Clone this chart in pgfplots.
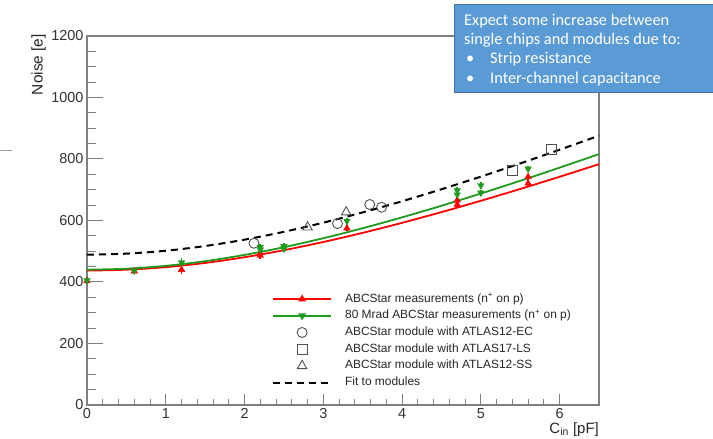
\documentclass[border=0pt]{standalone}
\usepackage{pgfplots}
\pgfplotsset{compat=1.18}
\usepackage{fontspec}
\setmainfont{Liberation Sans}
\newfontfamily\calibri{Carlito}
\definecolor{axgray}{HTML}{808080}
\definecolor{tickcol}{HTML}{333333}
\definecolor{rootred}{HTML}{FF0000}
\definecolor{rootgreen}{HTML}{1E9A1E}
\definecolor{boxblue}{HTML}{5B9BD5}
\definecolor{boxedge}{HTML}{41719C}
\definecolor{mkgray}{HTML}{505050}
\begin{document}
\begin{tikzpicture}
\path[use as bounding box] (-87bp,-34bp) rectangle (626bp,405bp);
% y axis with its own tick lengths
\begin{axis}[
  at={(0,0)}, anchor=south west,
  scale only axis, width=512bp, height=369bp,
  xmin=0, xmax=6.5, ymin=0, ymax=1200,
  hide x axis, axis y line*=left,
  ytick={0,200,...,1200}, minor y tick num=3, ytick pos=left,
  major tick length=15.7bp, minor tick length=9bp,
  axis line style={axgray, line width=1.2bp, -},
  tick style={axgray, line width=1bp},
  minor tick style={axgray, line width=1bp},
  tick label style={font=\fontsize{14.5}{16}\selectfont, text=tickcol},
  /pgf/number format/assume math mode=true,
  /pgf/number format/1000 sep={},
  scaled ticks=false,
  clip=false,
]
\node[rotate=90, anchor=base east, inner sep=0pt, font=\fontsize{15.5}{17}\selectfont, text=black!85]
  at ([xshift=-44.3bp, yshift=2bp]rel axis cs:0,1) {Noise [e]};
\end{axis}
% main axis: frame, x ticks, data, legend
\begin{axis}[
  at={(0,0)}, anchor=south west,
  scale only axis, width=512bp, height=369bp,
  xmin=0, xmax=6.5, ymin=0, ymax=1200,
  xtick={0,1,...,6}, minor x tick num=4, xtick pos=left,
  ytick=\empty,
  major tick length=11bp, minor tick length=6bp,
  axis line style={axgray, line width=1.2bp},
  tick style={axgray, line width=1bp},
  minor tick style={axgray, line width=1bp},
  tick label style={font=\fontsize{14.5}{16}\selectfont, text=tickcol},
  /pgf/number format/assume math mode=true,
  scaled ticks=false,
  clip=false,
  legend cell align=left,
  legend style={draw=none, fill=none, inner sep=0pt, outer sep=0pt,
    at={(axis cs:2.35,364)}, anchor=north west,
    font=\fontsize{12}{14}\selectfont, text=black!85,
    row sep=4.7bp,
    nodes={inner sep=0pt, outer sep=0pt, text height=9bp, text depth=3bp},
    /tikz/every odd column/.append style={column sep=13bp}},
  legend image code/.code={\draw[mark repeat=2,mark phase=2,#1] plot coordinates {(0bp,0bp) (29bp,0bp) (58bp,0bp)};},
]
\addlegendimage{rootred, line width=1.8bp, mark=triangle*, mark size=2.8bp, mark options={solid}}
\addlegendimage{rootgreen, line width=1.8bp, mark=triangle*, mark size=2.8bp, mark options={solid, rotate=180}}
\addlegendimage{only marks, mkgray, mark=o, mark size=5bp, mark options={line width=0.9bp}}
\addlegendimage{only marks, mkgray, mark=square, mark size=5bp, mark options={line width=0.9bp}}
\addlegendimage{only marks, mkgray, mark=triangle, mark size=5.5bp, mark options={line width=0.9bp}}
\addlegendimage{black, line width=2bp, dash pattern=on 7bp off 5bp}
\legend{ABCStar measurements (n\textsuperscript{+} on p),
  80 Mrad ABCStar measurements (n\textsuperscript{+} on p),
  ABCStar module with ATLAS12-EC,
  ABCStar module with ATLAS17-LS,
  ABCStar module with ATLAS12-SS,
  Fit to modules}

% fit curves
\addplot[rootred, line width=1.8bp, smooth, no marks] coordinates {
 (0,437) (0.5,440) (1,448.3) (1.5,462) (2,480.6) (2.5,503.5) (3,530.1) (3.5,559.9)
 (4,592.4) (4.5,627.3) (5,664.1) (5.5,702.5) (6,742.3) (6.5,783.2)};
\addplot[rootgreen, line width=1.8bp, smooth, no marks] coordinates {
 (0,440) (0.5,443.2) (1,452.5) (1.5,467.7) (2,488.1) (2.5,513.2) (3,542.4) (3.5,574.9)
 (4,610.2) (4.5,647.9) (5,687.7) (5.5,729.1) (6,771.9) (6.5,815.9)};
\addplot[black, line width=2bp, dash pattern=on 7bp off 5bp, smooth, no marks] coordinates {
 (0,489) (0.5,492.2) (1,501.6) (1.5,517) (2,537.7) (2.5,563.2) (3,593) (3.5,626.3)
 (4,662.6) (4.5,701.6) (5,742.7) (5.5,785.6) (6,830.1) (6.5,875.9)};

% module markers
\addplot[only marks, mkgray, mark=o, mark size=5bp, mark options={line width=0.9bp}] coordinates {
 (2.12,526) (3.18,590) (3.59,652) (3.74,643)};
\addplot[only marks, mkgray, mark=square, mark size=5bp, mark options={line width=0.9bp}] coordinates {
 (5.40,764) (5.90,832)};
\addplot[only marks, mkgray, mark=triangle, mark size=5.5bp, mark options={line width=0.9bp}] coordinates {
 (2.80,578) (3.29,627)};

% chip measurements
\addplot[only marks, rootred, mark=triangle*, mark size=3.8bp,
  error bars/.cd, y dir=both, y explicit, error mark=none,
  error bar style={rootred, line width=1.6bp}] coordinates {
 (0,403) +- (0,10) (0.6,435) +- (0,10) (1.2,440) +- (0,14) (2.2,486) +- (0,10) (2.2,494) +- (0,10)
 (3.3,575) +- (0,10) (4.7,652) +- (0,10) (4.7,666) +- (0,10) (5.6,721) +- (0,10) (5.6,742) +- (0,10)};
\addplot[only marks, rootgreen, mark=triangle*, mark size=3.8bp, mark options={rotate=180},
  error bars/.cd, y dir=both, y explicit, error mark=none,
  error bar style={rootgreen, line width=1.6bp}] coordinates {
 (0,405) +- (0,10) (0.6,437) +- (0,10) (1.2,463) +- (0,14) (2.2,505) +- (0,10) (2.2,514) +- (0,10)
 (2.5,508) +- (0,10) (2.5,516) +- (0,10) (3.3,598) +- (0,10) (4.7,684) +- (0,10) (4.7,698) +- (0,10)
 (5.0,690) +- (0,10) (5.0,714) +- (0,10) (5.6,768) +- (0,10)};

\node[anchor=base east, inner sep=0pt, font=\fontsize{15}{17}\selectfont, text=black!85]
  at ([yshift=-28bp]rel axis cs:1,0) {C\textsubscript{in} [pF]};
\end{axis}
% stray slide line at left
\draw[axgray!80, line width=1bp] (-87bp,254.3bp) -- (-75.3bp,254.3bp);
% annotation box
\draw[fill=boxblue, draw=boxedge, line width=1bp] (367bp,312.3bp) rectangle (630bp,400.3bp);
\begin{scope}[every node/.style={anchor=base west, inner sep=0pt, text=white, font=\calibri\fontsize{16.4}{19}\selectfont}]
\node at (377bp,379bp) {Expect some increase between};
\node at (377bp,360.5bp) {single chips and modules due to:};
\node at (379bp,341bp) {•};
\node at (403bp,341bp) {Strip resistance};
\node at (379bp,321.7bp) {•};
\node at (403bp,321.7bp) {Inter-channel capacitance};
\end{scope}
\end{tikzpicture}
\end{document}
